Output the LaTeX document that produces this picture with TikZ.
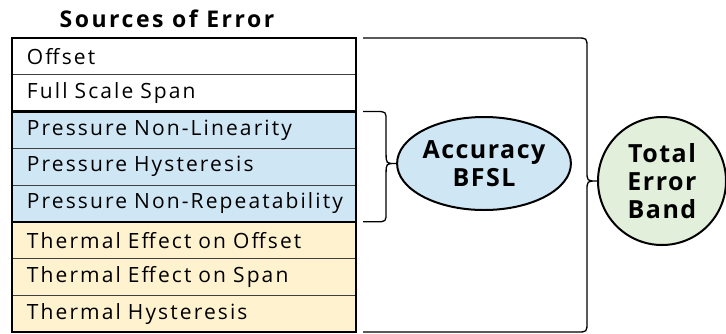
\documentclass[tikz,border=0pt]{standalone}
\usepackage{fontspec}
\setmainfont{Open Sans}
\usetikzlibrary{positioning,shapes.geometric,calc}

\definecolor{pressblue}{RGB}{207,230,245}
\definecolor{thermyel}{RGB}{255,242,206}
\definecolor{bandgreen}{RGB}{226,239,218}

\newfontfamily\rowfont[LetterSpace=10]{Open Sans}
\newfontfamily\bubblefont[LetterSpace=6]{Open Sans}
\newfontfamily\titlefont[LetterSpace=11]{Open Sans}

\tikzset{
    errrow/.style={draw=black!75, line width=1pt, outer sep=0pt,
        minimum height=36.75pt, text width=314pt, inner xsep=15pt,
        align=left, font=\rowfont\fontsize{21}{24}\selectfont},
    bubble/.style={draw, line width=2pt, inner sep=0pt, align=center,
        font=\bubblefont\bfseries\fontsize{25}{28}\selectfont},
    bracepen/.style={line width=1.3pt},
    sep/.style={line width=2.5pt}
}

% curly bracket from #1 down to #3 with its point on #2
\newcommand{\sidebrace}[3]{%
    \draw[bracepen] let \p1=(#1), \p2=(#2), \p3=(#3) in
        (\p1) -- (\x2-20pt,\y1)
        .. controls (\x2-10pt,\y1) .. (\x2-10pt,\y1-10pt)
        -- (\x2-10pt,\y2+10pt)
        .. controls (\x2-10pt,\y2) .. (\p2)
        .. controls (\x2-10pt,\y2) .. (\x2-10pt,\y2-10pt)
        -- (\x2-10pt,\y3+10pt)
        .. controls (\x2-10pt,\y3) .. (\x2-20pt,\y3)
        -- (\p3);
}

\begin{document}
\begin{tikzpicture}[x=1pt,y=-1pt]
    \useasboundingbox (0,0) rectangle (726,333);

    \node[font=\titlefont\bfseries\fontsize{23}{24}\selectfont] (title) at (167,19) {Sources of Error};

    % rows of the table
    \node[errrow, fill=white, anchor=north west] (off) at (12,38) {Offset};
    \node[errrow, fill=white, below=0pt of off] (fss) {Full Scale Span};
    \node[errrow, fill=pressblue, below=0pt of fss] (pnl) {Pressure Non-Linearity};
    \node[errrow, fill=pressblue, below=0pt of pnl] (phy) {Pressure Hysteresis};
    \node[errrow, fill=pressblue, below=0pt of phy] (pnr) {Pressure Non-Repeatability};
    \node[errrow, fill=thermyel, below=0pt of pnr] (teo) {Thermal Effect on Offset};
    \node[errrow, fill=thermyel, below=0pt of teo] (tes) {Thermal Effect on Span};
    \node[errrow, fill=thermyel, below=0pt of tes] (thy) {Thermal Hysteresis};

    \draw[sep] (off.north west) rectangle (thy.south east);
    \draw[sep] (fss.south west) -- (fss.south east);
    \draw[sep] (pnr.south west) -- (pnr.south east);

    \node[bubble, ellipse, fill=pressblue, minimum width=158pt, minimum height=93pt]
        (acc) at (484,163.5) {Accuracy\\BFSL};
    \node[bubble, circle, fill=bandgreen, minimum size=128pt]
        (teb) at (662,181) {Total\\Error\\Band};

    \sidebrace{$(pnl.north east)+(7,0)$}{acc.west}{$(pnr.south east)+(7,0)$}
    \sidebrace{$(off.north east)+(7,0)$}{teb.west}{$(thy.south east)+(7,0)$}
\end{tikzpicture}
\end{document}
